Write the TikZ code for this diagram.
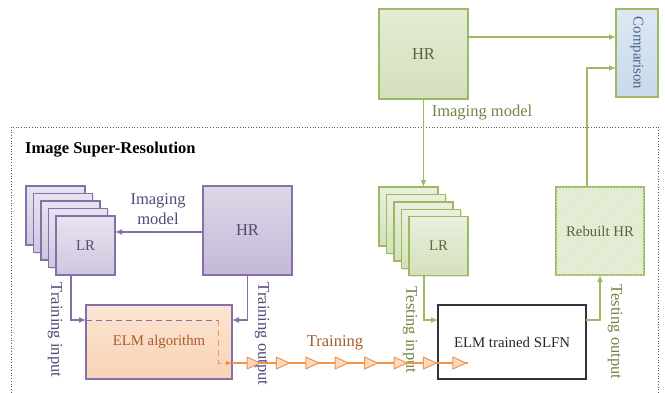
\documentclass[tikz,border=0pt]{standalone}
\usepackage{fontspec}
\setmainfont{Liberation Serif}
\usetikzlibrary{arrows.meta,patterns,shadows,calc}
\definecolor{pBorder}{HTML}{8570AC}
\definecolor{pText}{HTML}{564877}
\definecolor{pTop}{HTML}{DDD7E8}
\definecolor{pBot}{HTML}{C3B9D7}
\definecolor{gBorder}{HTML}{9DBA62}
\definecolor{gText}{HTML}{718744}
\definecolor{gDark}{HTML}{56663A}
\definecolor{gTop}{HTML}{E4ECD5}
\definecolor{gBot}{HTML}{D3E0BB}
\definecolor{oLine}{HTML}{F39449}
\definecolor{oText}{HTML}{A95C2A}
\definecolor{oTop}{HTML}{FCE5D4}
\definecolor{oBot}{HTML}{F8D2B5}
\definecolor{bTop}{HTML}{DDE8F3}
\definecolor{bBot}{HTML}{C7D9EA}
\definecolor{bText}{HTML}{48638A}
\newcommand\lblfont{\fontsize{16.5}{19.5}\selectfont}
\newcommand\boxfont{\fontsize{14.8}{17}\selectfont}
\begin{document}
\begin{tikzpicture}[x=1pt,y=-1pt,
  shd/.style={drop shadow={opacity=0.18,shadow xshift=1pt,shadow yshift=-1pt}},
  sq/.style={inner sep=0pt,outer sep=0pt,line width=1.3pt,font=\boxfont},
  purplebox/.style={sq,draw=pBorder,top color=pTop,bottom color=pBot,text=pText,shd},
  lrpurple/.style={sq,draw=pBorder,top color=pTop!70!white,bottom color=pBot!80!white,text=pText,shd,minimum width=59pt,minimum height=59pt},
  greenbox/.style={sq,draw=gBorder,top color=gTop,bottom color=gBot,text=gDark,shd},
  lrgreen/.style={sq,draw=gBorder,top color=gTop!80!white,bottom color=gBot,text=gDark!85!gray,shd,minimum width=59pt,minimum height=59pt},
  parrow/.style={draw=pBorder,line width=1.3pt,-{Latex[length=7pt,width=6pt]}},
  garrow/.style={draw=gBorder,line width=1.3pt,-{Latex[length=7pt,width=6pt]}},
  lbl/.style={font=\lblfont,inner sep=0pt,align=center},
  tri/.style={draw=oLine,fill=oLine!35!white,line width=1pt,line join=round}
]
\useasboundingbox (0,0) rectangle (665,392);
\fill[white] (0,0) rectangle (665,392);
% frame
\draw[gray!70!black,dotted,line width=0.7pt] (11,395) -- (11,127) -- (658,127) -- (658,395);
\node[anchor=west,inner sep=0pt,font=\lblfont\bfseries] (title) at (25,150) {Image Super-Resolution};

% purple LR stack
\foreach \i in {0,...,3}{
  \node[lrpurple] (lrpb\i) at ({55.5+7.5*\i},{215.5+7.5*\i}) {};
}
\node[lrpurple] (lrp) at (85.5,245.5) {LR};
\node[purplebox,minimum width=89pt,minimum height=89pt,font=\lblfont] (hrp) at (247.5,230.5) {HR};
\node[purplebox,draw=pBorder,top color=oTop,bottom color=oBot,text=oText,minimum width=146pt,minimum height=74pt] (elm) at (159,342) {ELM algorithm};

\draw[parrow] ([yshift=-1.5pt]hrp.west) -- ([yshift=-1.5pt]lrp.east |- hrp.west);
\node[lbl,text=pText] (imgp) at (158,209) {Imaging\\model};

\coordinate (elmin) at ([yshift=-15pt]elm.north west);
\coordinate (elmout) at ([yshift=-15pt]elm.north east);
\draw[parrow] ([xshift=-14.5pt]lrp.south) |- (elmin);
\draw[parrow] (hrp.south) |- (elmout);
\node[lbl,text=pText,rotate=-90] (trin) at (55,330) {Training input};
\node[lbl,text=pText,rotate=-90] (trout) at (262,334) {Training output};

% dashed internal path
\coordinate (dk) at (218,320);
\coordinate (dtip) at (232,363);
\draw[pBorder,dash pattern=on 6pt off 4pt,line width=1pt] (elmin) -- (dk);
\draw[oLine,dash pattern=on 6pt off 4pt,line width=1pt,-{Latex[length=6pt,width=5pt]}] (dk) |- (dtip);

% green part
\node[greenbox,minimum width=89pt,minimum height=90pt,font=\lblfont] (hrg) at (423.5,54) {HR};
\node[sq,draw=gBorder,top color=bTop,bottom color=bBot,text=bText,shd,minimum width=42pt,minimum height=88pt] (comp) at (637,53) {};
\node[font=\boxfont,text=bText,rotate=-90,inner sep=0pt] (comptxt) at (comp.center) {Comparison};

\foreach \i in {0,...,3}{
  \node[lrgreen] (lrgb\i) at ({408.5+7.5*\i},{216.5+7.5*\i}) {};
}
\node[lrgreen] (lrg) at (438.5,246) {LR};
\node[sq,draw=gBorder,fill=gTop!70!white,postaction={pattern=north east lines,pattern color=gBorder!45},text=gDark,shd,minimum width=88pt,minimum height=88pt] (rebuilt) at (600,231) {Rebuilt HR};
\node[sq,draw=black!80,fill=white,text=black!85,shd,minimum width=148pt,minimum height=74pt] (slfn) at (512,342) {ELM trained SLFN};

\draw[garrow] (hrg.south) -- (hrg.south |- lrgb0.north);
\node[lbl,text=gText] (imgg) at (482,113) {Imaging model};
\coordinate (hrgout) at ([yshift=-28pt]hrg.north east);
\coordinate (compin1) at ([yshift=-28pt]comp.north west);
\coordinate (compin2) at ([yshift=-59pt]comp.north west);
\draw[garrow] (hrgout) -- (compin1);
\coordinate (rbt) at ([xshift=-13pt]rebuilt.north);
\draw[garrow] (rbt) |- (compin2);
\coordinate (slin) at ([yshift=-15pt]slfn.north west);
\coordinate (slout) at ([yshift=-15pt]slfn.north east);
\draw[garrow] ([xshift=-14.5pt]lrg.south) |- (slin);
\draw[garrow] (slout) -| (rebuilt.south);
\node[lbl,text=gText,rotate=-90] (tein) at (410,330) {Testing input};
\node[lbl,text=gText,rotate=-90] (teout) at (615,332) {Testing output};

% training line with triangles
\coordinate (trend) at (468,363);
\draw[oLine,line width=1.2pt] (dtip) -- (trend);
\foreach \k in {0,...,7}{
  \pgfmathsetmacro\tx{247+29.4*\k}
  \draw[tri] (\tx,357) -- (\tx+13,363) -- (\tx,369) -- cycle;
}
\node[lbl,text=oText] (trn) at (335,343) {Training};
\end{tikzpicture}
\end{document}
